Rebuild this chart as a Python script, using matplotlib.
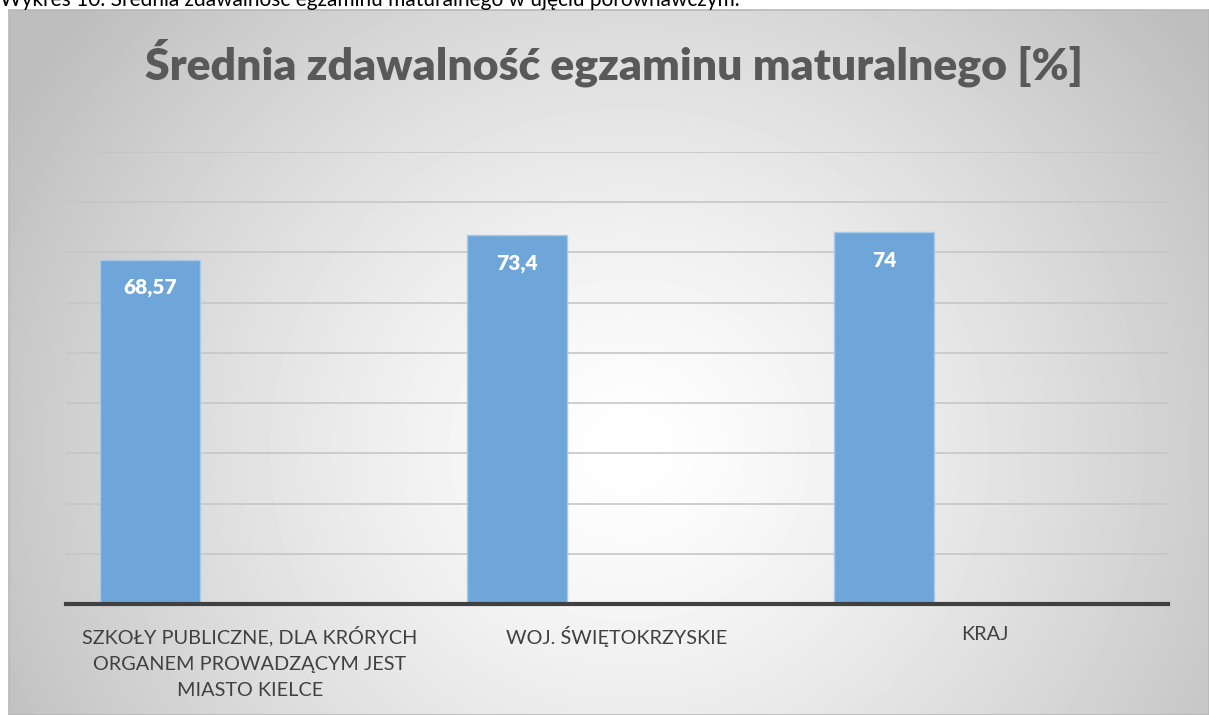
import numpy as np
import matplotlib.pyplot as plt
import matplotlib as mpl

plt.rcParams['font.family'] = ['Lato', 'DejaVu Sans']

categories = ["SZKOŁY PUBLICZNE, DLA KRÓRYCH\nORGANEM PROWADZĄCYM JEST\nMIASTO KIELCE",
              "WOJ. ŚWIĘTOKRZYSKIE", "KRAJ"]
values = [68.57, 73.4, 74]
labels = ["68,57", "73,4", "74"]

W, H = 1209, 715
fig = plt.figure(figsize=(W / 100, H / 100), dpi=100)
fig.patch.set_facecolor('white')

# radial gradient background of the chart frame
fx0, fy0 = 9, 10
bg = fig.add_axes([fx0 / W, 0, 1 - fx0 / W, (H - fy0) / H])
yy, xx = np.mgrid[0:H - fy0, 0:W - fx0]
cx, cy = 620, 440
d = np.sqrt(((xx - cx) / 1.0) ** 2 + ((yy - cy) / 0.95) ** 2)
t = np.clip(d / 720, 0, 1)
c = 1.0 - 0.26 * t ** 1.3
bg.imshow(c, cmap='gray', vmin=0, vmax=1, aspect='auto', interpolation='bilinear')
bg.set_xticks([])
bg.set_yticks([])
for s in bg.spines.values():
    s.set_color('#b8b8b8')
    s.set_linewidth(1.2)

# caption cut at the top
fig.text(0.0, 1.0 + 2 / H, "Wykres 10. Średnia zdawalność egzaminu maturalnego w ujęciu porównawczym.",
         fontsize=15, color='black', ha='left', va='center')

ax = fig.add_axes([66 / W, (H - 604) / H, (1168 - 66) / W, (604 - 152) / H])
ax.patch.set_alpha(0)
x = np.arange(len(values))
bw = 0.272
bars = ax.bar(x - bw, values, width=bw, color='#6fa6d9', edgecolor='#a9c9e8', linewidth=1, zorder=3)
ax.set_xlim(-0.5, 2.5)
ax.set_ylim(0, 90)
ax.set_yticks(np.arange(10, 91, 10))
ax.yaxis.grid(True, color='#c6c6c6', linewidth=1.2, zorder=0)
ax.tick_params(axis='both', length=0)
ax.set_yticklabels([])
for s in ['top', 'right', 'left']:
    ax.spines[s].set_visible(False)
ax.spines['bottom'].set_color('#404040')
ax.spines['bottom'].set_linewidth(3)
ax.spines['bottom'].set_zorder(4)
ax.set_xticks(x)
ax.set_xticklabels(categories, fontsize=14.3, color='#404040', linespacing=1.65, va='top')
ax.tick_params(axis='x', pad=16)

for b, lab in zip(bars, labels):
    ax.annotate(lab, (b.get_x() + b.get_width() / 2, b.get_height()), xytext=(0, -20),
                textcoords='offset points', ha='center', va='center', fontsize=15,
                fontweight='heavy', color='white', zorder=5)

fig.text(614 / W, 1 - 63 / H, "Średnia zdawalność egzaminu maturalnego [%]", fontsize=32,
         fontweight='heavy', color='#595959', ha='center', va='center')

fig.savefig('out.png', dpi=100)
